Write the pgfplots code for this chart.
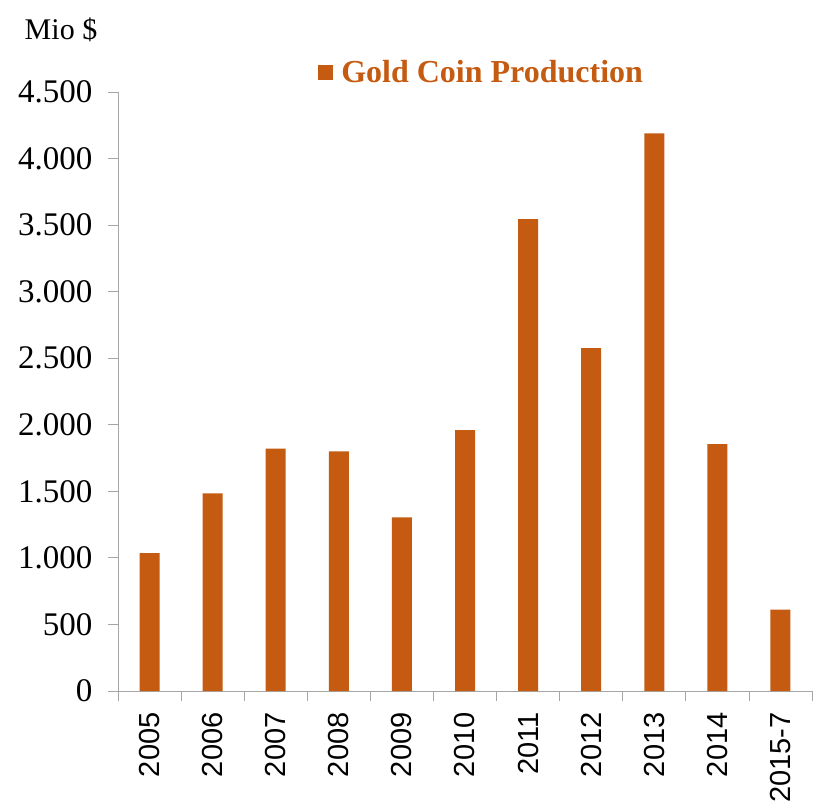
\documentclass[border=0pt]{standalone}
\usepackage{fontspec}
\setmainfont{Liberation Serif}
\newfontfamily\xfont{Liberation Sans}
\newfontfamily\yfont{Liberation Serif}
\usepackage{pgfplots}
\pgfplotsset{compat=1.18}
\definecolor{barc}{HTML}{C55A11}
\definecolor{axgray}{HTML}{A6A6A6}
\begin{document}
\begin{tikzpicture}[x=1pt,y=1pt]
\useasboundingbox (0,0) rectangle (818,806);
\node[font=\yfont\fontsize{30}{30}\selectfont] at (61,776) {Mio \$};
\begin{axis}[
  at={(118pt,115pt)}, anchor=south west,
  scale only axis, width=694pt, height=599pt,
  xmin=-0.5, xmax=10.5, ymin=0, ymax=4500,
  axis x line*=bottom, axis y line*=left,
  axis line style={axgray, line width=0.8pt},
  ytick={0,500,...,4500},
  xtick={0,...,10},
  xticklabels={2005,2006,2007,2008,2009,2010,2011,2012,2013,2014,2015-7},
  minor xtick={-0.5,0.5,...,10.5},
  major x tick style={draw=none},
  tick style={axgray, line width=0.8pt},
  tick align=outside,
  major tick length=10pt, minor tick length=10pt,
  x tick label style={yshift=-8pt, rotate=90, anchor=east, font=\xfont\fontsize{29}{29}\selectfont},
  y tick label style={xshift=-12pt, font=\yfont\fontsize{33}{33}\selectfont},
  /pgf/number format/assume math mode=true,
  /pgf/number format/1000 sep={.},
  ybar, bar width=20pt,
  legend style={at={(0.284,1.033)}, anchor=west, draw=none, fill=none,
    font=\yfont\bfseries\fontsize{32}{32}\selectfont, text=barc},
  legend image code/.code={\fill[barc] (0pt,-7.5pt) rectangle (15pt,7.5pt);},
]
\addplot[fill=barc, draw=none] coordinates {
(0,1035) (1,1485) (2,1820) (3,1800) (4,1305) (5,1960) (6,3545) (7,2575) (8,4190) (9,1855) (10,612)
};
\addlegendentry{\hspace{6pt}Gold Coin Production}
\end{axis}
\end{tikzpicture}
\end{document}
